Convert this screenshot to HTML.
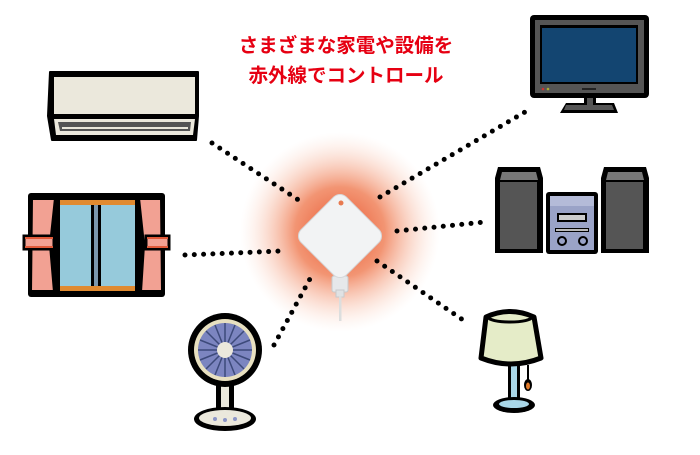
<!DOCTYPE html>
<html><head><meta charset="utf-8"><style>
body{margin:0;background:#fff;width:700px;height:450px;overflow:hidden}
</style></head><body>
<svg width="700" height="450" viewBox="0 0 700 450" xmlns="http://www.w3.org/2000/svg">
<defs>
<radialGradient id="g" cx="340" cy="232" r="100" gradientUnits="userSpaceOnUse">
<stop offset="0" stop-color="#e8502a" stop-opacity="1"/>
<stop offset="0.45" stop-color="#ef7a50" stop-opacity="0.8"/>
<stop offset="1" stop-color="#fbd8c8" stop-opacity="0"/>
</radialGradient>
</defs>
<text x="346" y="52" text-anchor="middle" font-family="Liberation Sans, Noto Sans CJK JP, sans-serif" font-weight="bold" font-size="19.5" fill="#e60012">さまざまな家電や設備を</text>
<text x="346" y="82" text-anchor="middle" font-family="Liberation Sans, Noto Sans CJK JP, sans-serif" font-weight="bold" font-size="19.5" fill="#e60012">赤外線でコントロール</text>

<circle cx="340" cy="232" r="100" fill="url(#g)"/>

<g stroke="#000" stroke-width="5" stroke-linecap="round" stroke-dasharray="0 9.3" fill="none">
<line x1="212" y1="143" x2="300" y2="201"/>
<line x1="380" y1="197" x2="525" y2="112"/>
<line x1="397" y1="231" x2="485" y2="222"/>
<line x1="185" y1="255" x2="282" y2="251"/>
<line x1="274" y1="345" x2="311" y2="277"/>
<line x1="377" y1="261" x2="463" y2="320"/>
</g>

<!-- AC -->
<path d="M50 72 H198 V116 L196 140 H52 L48 116 Z" fill="#000" stroke="#000" stroke-width="2" stroke-linejoin="round"/>
<rect x="54" y="77" width="141" height="37" fill="#ebe8dc"/>
<path d="M54 119 H195 L193 135 H56 Z" fill="#ebe8dc"/>
<path d="M58 122 H191 L190 131 H60 Z" fill="#555"/>
<rect x="62" y="127" width="126" height="2" fill="#ebe8dc"/>

<!-- TV -->
<rect x="530" y="15" width="119" height="83" rx="4" fill="#000"/>
<rect x="535" y="20" width="109" height="73" fill="#555"/>
<rect x="540" y="25" width="98" height="59" fill="#000"/>
<rect x="542" y="28" width="94" height="54" fill="#134571"/>
<circle cx="543" cy="89" r="1.3" fill="#c33"/><circle cx="548" cy="89" r="1.3" fill="#aa3"/>
<rect x="582" y="88" width="14" height="2" fill="#222"/>
<path d="M584 97 H596 V103 H614 L618 113 H560 L566 103 H584 Z" fill="#000"/>
<rect x="587" y="98" width="6" height="7" fill="#555"/>
<path d="M566 105 H612 L614 110 H564 Z" fill="#555"/>

<!-- Stereo -->
<path d="M498 167 H540 L543 178 V253 H495 V178 Z" fill="#000"/>
<path d="M502 172 H536 L538 180 H500 Z" fill="#777"/>
<rect x="500" y="182" width="37" height="67" fill="#555"/>
<path d="M604 167 H646 L649 178 V253 H601 V178 Z" fill="#000"/>
<path d="M608 172 H642 L644 180 H606 Z" fill="#777"/>
<rect x="606" y="182" width="37" height="67" fill="#555"/>
<rect x="546" y="192" width="52" height="62" rx="3" fill="#000"/>
<rect x="550" y="196" width="44" height="54" fill="#9aa3c7"/>
<rect x="550" y="196" width="44" height="10" fill="#b4bbd8"/>
<rect x="557" y="213" width="30" height="9" fill="#000"/><rect x="559" y="215" width="26" height="5" fill="#ccc"/>
<rect x="555" y="228" width="34" height="4" fill="#000"/><rect x="556" y="229" width="32" height="2" fill="#bbb"/>
<circle cx="562" cy="241" r="4" fill="none" stroke="#000" stroke-width="2"/>
<circle cx="583" cy="241" r="4" fill="none" stroke="#000" stroke-width="2"/>

<!-- Curtain -->
<rect x="28" y="193" width="137" height="104" rx="3" fill="#000"/>
<rect x="60" y="200" width="75" height="90" fill="#96cadb"/>
<rect x="60" y="200" width="75" height="5" fill="#e08a30"/>
<rect x="60" y="286" width="75" height="5" fill="#e08a30"/>
<rect x="91" y="205" width="10" height="81" fill="#000"/><rect x="94" y="205" width="4" height="81" fill="#7b97ad"/>
<path d="M31 198 H56 L51 245 L55 292 H30 Z" fill="#f2a193" stroke="#000" stroke-width="4" stroke-linejoin="round"/>
<path d="M138 198 H162 L163 292 H140 L143 245 Z" fill="#f2a193" stroke="#000" stroke-width="4" stroke-linejoin="round"/>
<rect x="24" y="236" width="30" height="13" fill="#f2a193" stroke="#000" stroke-width="3"/>
<rect x="146" y="236" width="23" height="13" fill="#f2a193" stroke="#000" stroke-width="3"/>
<line x1="25" y1="238" x2="53" y2="238" stroke="#e05a3a" stroke-width="2"/>
<line x1="25" y1="247" x2="53" y2="247" stroke="#e05a3a" stroke-width="2"/>
<line x1="147" y1="238" x2="168" y2="238" stroke="#e05a3a" stroke-width="2"/>
<line x1="147" y1="247" x2="168" y2="247" stroke="#e05a3a" stroke-width="2"/>

<!-- Fan -->
<rect x="216" y="380" width="18" height="35" fill="#000"/>
<rect x="221" y="384" width="8" height="30" fill="#ebe8dc"/>
<ellipse cx="225" cy="419" rx="31" ry="12" fill="#000"/>
<ellipse cx="225" cy="418" rx="26" ry="8" fill="#ebe8dc"/>
<circle cx="215" cy="419" r="2" fill="#8c95c8"/><circle cx="225" cy="420" r="2" fill="#8c95c8"/><circle cx="235" cy="419" r="2" fill="#8c95c8"/>
<circle cx="225" cy="350" r="37" fill="#000"/>
<circle cx="225" cy="350" r="31" fill="#e8e0c0"/>
<circle cx="225" cy="350" r="27" fill="#7c85c0"/>
<g stroke="#3d4a7a" stroke-width="1.5">
<line x1="198" y1="350" x2="252" y2="350"/><line x1="225" y1="323" x2="225" y2="377"/>
<line x1="206" y1="331" x2="244" y2="369"/><line x1="244" y1="331" x2="206" y2="369"/>
<line x1="200" y1="340" x2="250" y2="360"/><line x1="200" y1="360" x2="250" y2="340"/>
<line x1="215" y1="325" x2="235" y2="375"/><line x1="235" y1="325" x2="215" y2="375"/>
</g>
<circle cx="225" cy="350" r="8" fill="#ebe8dc"/>

<!-- Lamp -->
<rect x="508" y="360" width="12" height="42" fill="#000"/>
<rect x="511" y="362" width="6" height="40" fill="#a9d7e8"/>
<ellipse cx="514" cy="405" rx="21" ry="8" fill="#000"/>
<ellipse cx="514" cy="404" rx="15" ry="4" fill="#a9d7e8"/>
<line x1="528" y1="365" x2="528" y2="380" stroke="#000" stroke-width="2"/>
<ellipse cx="528" cy="385" rx="4" ry="6" fill="#000"/><ellipse cx="528" cy="386" rx="2" ry="3.5" fill="#e07a2a"/>
<path d="M486 317 Q510 306 534 317 L541 358 Q511 370 481 358 Z" fill="#e5ecc8" stroke="#000" stroke-width="5" stroke-linejoin="round"/>
<ellipse cx="510" cy="317" rx="22" ry="5" fill="none" stroke="#000" stroke-width="3"/>

<!-- Device -->
<rect x="332" y="276" width="16" height="16" rx="2" fill="#e6e8ea" stroke="#c8cacc"/>
<rect x="336" y="290" width="8" height="7" fill="#e0e2e4" stroke="#c8cacc"/>
<rect x="339" y="296" width="2.5" height="25" fill="#dcdede"/>
<g transform="translate(340 236) rotate(45)">
<rect x="-32" y="-32" width="64" height="64" rx="9" fill="#f2f3f4" stroke="#d6d8da" stroke-width="1"/>
</g>
<circle cx="341" cy="203" r="2.5" fill="#e87a50"/>
</svg>
</body></html>
